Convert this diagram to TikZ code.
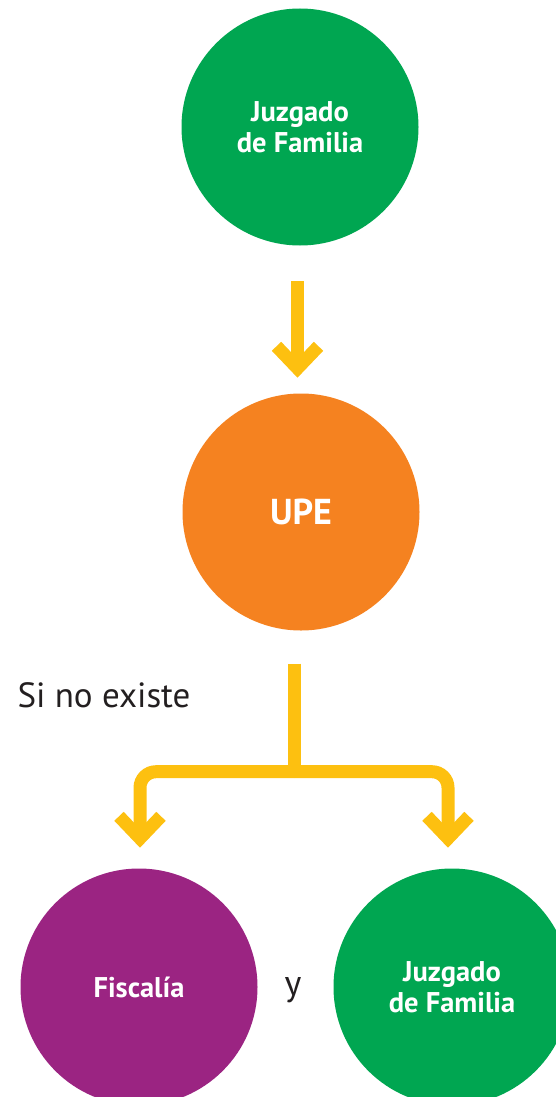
\documentclass[tikz,border=0pt]{standalone}
\usepackage{fontspec}
\setmainfont{PT Sans}
\usetikzlibrary{calc}
\definecolor{famgreen}{HTML}{00A651}
\definecolor{upeorange}{HTML}{F58220}
\definecolor{fiscpurple}{HTML}{9B2482}
\definecolor{arrowyellow}{HTML}{FDC010}
\definecolor{textgray}{HTML}{231F20}

\begin{document}
\begin{tikzpicture}[x=1pt, y=-1pt,
	inst/.style={circle, minimum size=237pt, inner sep=0pt, text=white, align=center, font=\bfseries\fontsize{28.5}{31}\selectfont},
	yarrow/.style={draw=arrowyellow, line width=13pt, miter limit=10},
	chev/.pic={\draw[yarrow] (-21,-22) -- (0,0) -- (21,-22);}]
	\useasboundingbox (0,0) rectangle (556,1097);
	\node[inst, fill=famgreen] (juzgado) at (300,127) {Juzgado\\de Familia};
	\node[inst, fill=upeorange, font=\bfseries\fontsize{36}{40}\selectfont] (upe) at (301,512) {UPE};
	\node[inst, fill=fiscpurple] (fiscalia) at (139,987) {Fiscalía};
	\node[inst, fill=famgreen] (juzgado2) at (452,987) {Juzgado\\de Familia};
	\node[anchor=base west, text=textgray, font=\fontsize{35}{40}\selectfont] (sinoexiste) at (14,707) {Si no existe};
	\node[anchor=base, text=textgray, font=\fontsize{36}{40}\selectfont] (y) at (293,995) {y};
	% arrows
	\coordinate (tipa) at ($(upe.north)+(-3.5,-25)$);
	\draw[yarrow] ($(juzgado.south)+(-2.5,35.5)$) -- (tipa);
	\pic at (tipa) {chev};
	\coordinate (fork) at ($(upe.south)+(-7,141)$);
	\coordinate (tipl) at ($(fiscalia.north)+(1,-30)$);
	\coordinate (tipr) at ($(juzgado2.north)+(-4,-30)$);
	\draw[yarrow] ($(upe.south)+(-7,33)$) -- (fork);
	\draw[yarrow, rounded corners=16pt] (fork) -| (tipl);
	\draw[yarrow, rounded corners=16pt] (fork) -| (tipr);
	\pic at (tipl) {chev};
	\pic at (tipr) {chev};
\end{tikzpicture}
\end{document}
